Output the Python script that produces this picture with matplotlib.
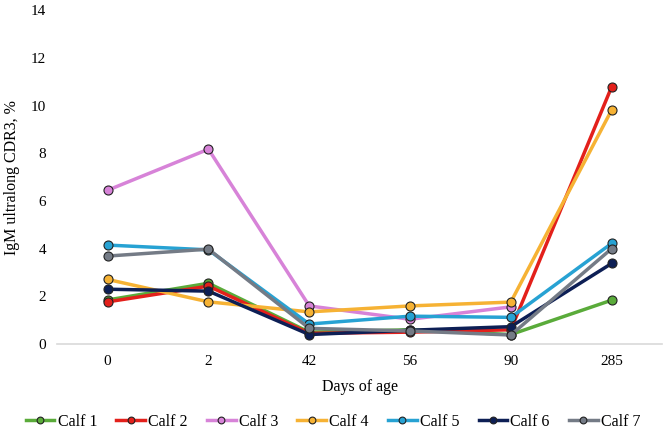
import matplotlib
matplotlib.use("Agg")
import numpy as np
from matplotlib import pyplot as plt

days = ["0", "2", "42", "56", "90", "285"]
calf_names = ["Calf 1", "Calf 2", "Calf 3", "Calf 4", "Calf 5", "Calf 6", "Calf 7"]
calf_1 = [1.85, 2.55, 0.5, 0.6, 0.4, 1.84]
calf_2 = [1.77, 2.43, 0.45, 0.5, 0.6, 10.78]
calf_3 = [6.45, 8.17, 1.6, 1.04, 1.56, np.nan]  # no visible point at 285
calf_4 = [2.71, 1.77, 1.35, 1.6, 1.76, 9.81]
calf_5 = [4.15, 3.95, 0.84, 1.17, 1.12, 4.22]
calf_6 = [2.3, 2.22, 0.4, 0.58, 0.73, 3.38]
calf_7 = [3.69, 3.98, 0.66, 0.55, 0.38, 4.0]
series = [calf_1, calf_2, calf_3, calf_4, calf_5, calf_6, calf_7]
colors = ["#5aab3a", "#e3201b", "#d783d8", "#f6b234", "#27a2d3", "#0d1f55", "#747b86"]

plt.rcParams["font.family"] = ["Liberation Serif", "DejaVu Serif"]

fig = plt.figure(figsize=(6.66, 4.4), dpi=100)
ax = fig.add_axes([0.086, 0.218, 0.908, 0.759])

x = list(range(len(days)))
for name, vals, c in zip(calf_names, series, colors):
    ax.plot(x, vals, color=c, lw=2.5, marker="o", ms=6.5,
            markerfacecolor=c, markeredgecolor="#222222", markeredgewidth=0.8,
            label=name)

ax.set_xlim(-0.5, len(days) - 0.5)
ax.set_ylim(0, 14)
ax.set_yticks(range(0, 15, 2))
ax.set_xticks(x)
ax.set_xticklabels(days)
ax.tick_params(length=0, labelsize=11, pad=8)
for s in ["top", "right", "left"]:
    ax.spines[s].set_visible(False)
ax.spines["bottom"].set_color("#d9d9d9")
ax.spines["bottom"].set_linewidth(1.2)

ax.set_xlabel("Days of age", fontsize=11.5, labelpad=8)
ax.set_ylabel("IgM ultralong CDR3, %", fontsize=11.5, labelpad=8)

fig.legend(loc="center", bbox_to_anchor=(0.5, 0.042), ncol=7, frameon=False,
           fontsize=11.5, handlelength=1.8, handletextpad=0.2, columnspacing=1.2,
           markerscale=0.75)

fig.savefig("out.png", dpi=100)
